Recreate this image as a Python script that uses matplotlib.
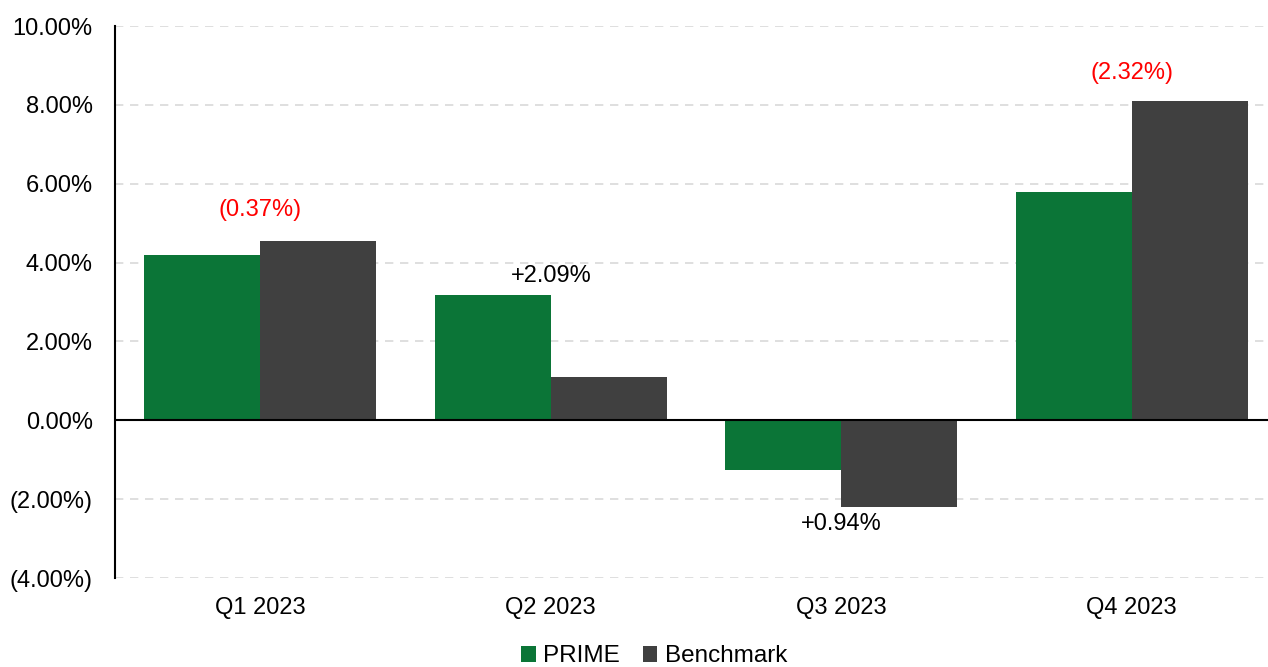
import matplotlib.pyplot as plt
import numpy as np
from matplotlib.ticker import FuncFormatter

# datos (retornos trimestrales en %)
trimestres = ["Q1 2023", "Q2 2023", "Q3 2023", "Q4 2023"]
prime = [4.19, 3.18, -1.25, 5.78]
benchmark = [4.56, 1.09, -2.19, 8.10]

verde = "#0b7537"
gris = "#404040"

plt.rcParams['font.family'] = ['Liberation Sans', 'DejaVu Sans']

fig = plt.figure(figsize=(12.68, 6.67), dpi=100)
ax = fig.add_axes([0.0907, 0.1334, 0.9164, 0.8276])

x = np.arange(len(trimestres))
ancho = 0.4
ax.bar(x - ancho / 2, prime, ancho, color=verde, label="PRIME", zorder=3)
ax.bar(x + ancho / 2, benchmark, ancho, color=gris, label="Benchmark", zorder=3)

# diferencia PRIME - Benchmark encima/debajo de cada grupo
offsets = [31, 19, -17, 28]  # pixeles
for i in range(len(x)):
    diff = prime[i] - benchmark[i]
    if diff < 0:
        txt = "({:.2f}%)".format(abs(diff))
        col = "#ff0000"
    else:
        txt = "+{:.2f}%".format(diff)
        col = "black"
    if offsets[i] > 0:
        base = max(prime[i], benchmark[i])
    else:
        base = min(prime[i], benchmark[i])
    ax.annotate(txt, (x[i], base), xytext=(0, offsets[i] * 0.72),
                textcoords="offset points", ha="center", va="center",
                fontsize=17, color=col)

ax.set_xlim(-0.5, 3.5)
ax.set_ylim(-4, 10)
ax.set_yticks(np.arange(-4, 10.1, 2))


def fmt(v, pos):
    if v < 0:
        return "({:.2f}%)".format(abs(v))
    return "{:.2f}%".format(v)


ax.yaxis.set_major_formatter(FuncFormatter(fmt))
ax.set_xticks(x)
ax.set_xticklabels(trimestres)
ax.tick_params(axis="both", length=0, labelsize=17, colors="black")
ax.tick_params(axis="y", pad=16)
ax.tick_params(axis="x", pad=14)

ax.grid(axis="y", color="#d9d9d9", linestyle=(0, (5, 4)), linewidth=1.2, zorder=0)
ax.axhline(0, color="black", linewidth=1.5, zorder=4)
for s in ["top", "right", "bottom"]:
    ax.spines[s].set_visible(False)
ax.spines["left"].set_linewidth(1.5)

ax.legend(loc="lower center", bbox_to_anchor=(0.464, -0.162), ncol=2,
          frameon=False, fontsize=17.5, handlelength=0.6, handleheight=0.6,
          handletextpad=0.3, columnspacing=0.95, borderaxespad=0, borderpad=0)

fig.savefig("out.png", dpi=100)
